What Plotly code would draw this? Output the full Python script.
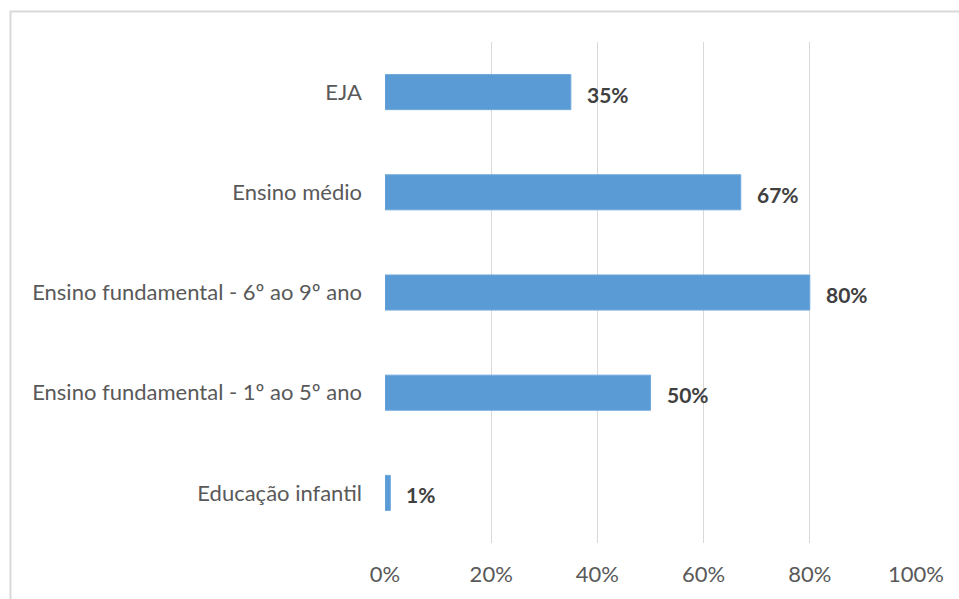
import plotly.graph_objects as go

# Share of schools by teaching stage (percent)
categories = [
    "Educação infantil",
    "Ensino fundamental - 1º ao 5º ano",
    "Ensino fundamental - 6º ao 9º ano",
    "Ensino médio",
    "EJA",
]
values = [1, 50, 80, 67, 35]
tick_vals = [0, 20, 40, 60, 80, 100]
tick_text = ["0%", "20%", "40%", "60%", "80%", "100%"]

FONT = "Lato, 'Open Sans', sans-serif"
BAR = "#5B9BD5"
GRID = "#D9D9D9"
TEXT = "#595959"

fig = go.Figure()
fig.add_trace(go.Bar(
    x=values,
    y=categories,
    orientation="h",
    width=0.35,
    marker=dict(color=BAR, line=dict(color="#6FA8DC", width=1)),
    hoverinfo="skip",
))

# value labels to the right of each bar
for v, c in zip(values, categories):
    fig.add_annotation(
        x=v, y=c, text=f"<b>{v}%</b>", showarrow=False,
        xanchor="left", yanchor="middle", xshift=14, yshift=-2,
        font=dict(family=FONT, size=21, color="#404040"),
    )

# outer chart frame
fig.add_shape(
    type="rect", xref="paper", yref="paper",
    x0=-0.7053, x1=1.3, y0=-0.3, y1=1.0609,
    line=dict(color=GRID, width=2), fillcolor="rgba(0,0,0,0)",
    layer="below",
)

fig.update_layout(
    width=959, height=599,
    margin=dict(l=385, r=43, t=42, b=56),
    paper_bgcolor="white", plot_bgcolor="white",
    showlegend=False,
    font=dict(family=FONT, size=22, color=TEXT),
    xaxis=dict(
        range=[0, 100], tickvals=tick_vals, ticktext=tick_text,
        showgrid=True, gridcolor=GRID, gridwidth=1,
        zeroline=False, showline=False, ticks="",
        ticklabelstandoff=16,
        tickfont=dict(family=FONT, size=22, color=TEXT),
        fixedrange=True,
    ),
    yaxis=dict(
        categoryorder="array", categoryarray=categories,
        showgrid=False, zeroline=False,
        showline=False, ticks="",
        ticklabelstandoff=22,
        tickfont=dict(family=FONT, size=22, color=TEXT),
        fixedrange=True,
    ),
)

fig.write_html("out.html")
